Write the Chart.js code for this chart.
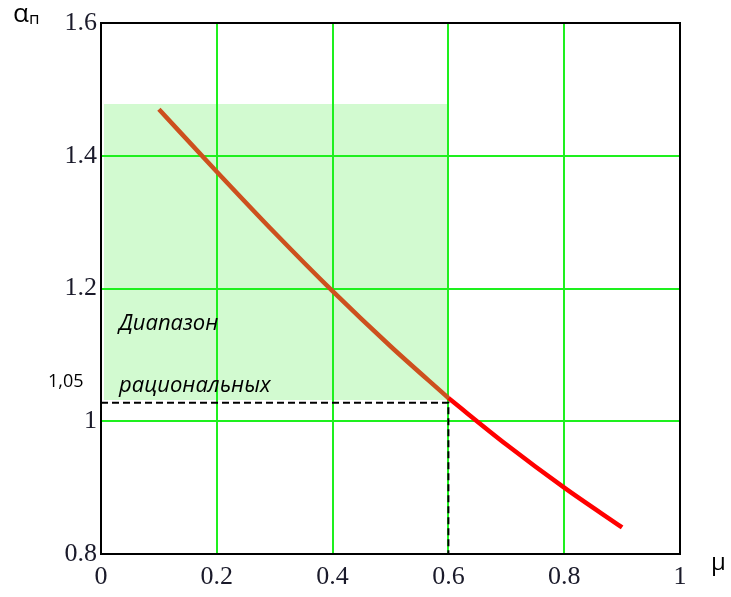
<!DOCTYPE html>
<html>
<head>
<meta charset="utf-8">
<script src="https://cdn.jsdelivr.net/npm/chart.js@4"></script>
<style>
  html, body { margin: 0; padding: 0; background: #fff; }
  #wrap { width: 731px; height: 597px; }
</style>
</head>
<body>
<div id="wrap"><canvas id="chart"></canvas></div>
<script>
// данные кривой (mu -> alpha_n)
const muValues = [0.1, 0.2, 0.3, 0.4, 0.5, 0.6, 0.7, 0.8, 0.9];
const alphaValues = [1.47, 1.376, 1.284, 1.196, 1.113, 1.035, 0.965, 0.9, 0.84];
const splitIndex = 5; // до mu = 0.6 кривая коричневая, дальше красная

// зона рациональных значений
const rangeX = [0.005, 0.6];
const rangeY = [1.032, 1.478];
const dashLevel = 1.028;

const xLimits = [0, 1];
const yLimits = [0.8, 1.6];
const tickStep = 0.2;

const pts = (xs, ys) => xs.map((x, i) => ({ x: x, y: ys[i] }));

const curveLeft = pts(muValues.slice(0, splitIndex + 1), alphaValues.slice(0, splitIndex + 1));
const curveRight = pts(muValues.slice(splitIndex), alphaValues.slice(splitIndex));

// подписи поверх графика
const textsPlugin = {
    id: 'texts',
    afterDraw(chart) {
        const ctx = chart.ctx;
        const a = chart.chartArea;
        ctx.save();
        // рамка
        ctx.strokeStyle = '#000';
        ctx.lineWidth = 2;
        ctx.strokeRect(a.left, a.top, a.right - a.left, a.bottom - a.top);

        ctx.fillStyle = '#000';
        ctx.textBaseline = 'alphabetic';
        ctx.font = '26px "Open Sans"';
        ctx.fillText('α', 13, 22);
        ctx.font = '17px "Open Sans"';
        ctx.fillText('п', 29, 24);
        ctx.font = '24px "Open Sans"';
        ctx.fillText('μ', 711, 570);

        ctx.font = '18px "Open Sans"';
        ctx.fillText('1,05', 48, 387);

        ctx.font = 'italic 22px "Open Sans"';
        ctx.fillText('Диапазон', 119, 330);
        ctx.fillText('рациональных', 119, 392);
        ctx.restore();
    }
};

new Chart(document.getElementById('chart'), {
    type: 'scatter',
    data: {
        datasets: [
            {
                // зелёная зона
                data: pts(rangeX, [rangeY[1], rangeY[1]]),
                showLine: true,
                borderWidth: 0,
                pointRadius: 0,
                backgroundColor: 'rgb(210, 250, 208)',
                fill: { value: rangeY[0] },
                order: 3
            },
            {
                // пунктир
                data: [{ x: 0, y: dashLevel }, { x: rangeX[1], y: dashLevel }, { x: rangeX[1], y: yLimits[0] }],
                showLine: true,
                borderColor: '#000',
                borderWidth: 2,
                borderDash: [7, 4],
                pointRadius: 0,
                order: 2
            },
            {
                data: curveLeft,
                showLine: true,
                borderColor: 'rgb(205, 80, 30)',
                borderWidth: 4.5,
                pointRadius: 0,
                cubicInterpolationMode: 'monotone',
                order: 1
            },
            {
                data: curveRight,
                showLine: true,
                borderColor: 'rgb(255, 0, 0)',
                borderWidth: 4.5,
                pointRadius: 0,
                cubicInterpolationMode: 'monotone',
                order: 1
            }
        ]
    },
    options: {
        responsive: true,
        maintainAspectRatio: false,
        animation: false,
        layout: { padding: { left: 0, top: 23, right: 51, bottom: 0 } },
        plugins: {
            legend: { display: false },
            tooltip: { enabled: false },
            filler: { drawTime: 'beforeDraw' } // заливка под сеткой
        },
        scales: {
            x: {
                type: 'linear',
                min: xLimits[0], max: xLimits[1],
                afterFit: s => { s.height = 43; },
                grid: { color: 'rgb(30, 240, 30)', lineWidth: 2, drawTicks: false },
                border: { display: false },
                ticks: {
                    stepSize: tickStep,
                    padding: 8,
                    color: '#1a1a2a',
                    font: { family: '"Liberation Serif"', size: 26 },
                    callback: v => String(Math.round(v * 10) / 10)
                }
            },
            y: {
                type: 'linear',
                min: yLimits[0], max: yLimits[1],
                afterFit: s => { s.width = 101; },
                grid: { color: 'rgb(30, 240, 30)', lineWidth: 2, drawTicks: false },
                border: { display: false },
                ticks: {
                    stepSize: tickStep,
                    padding: 4,
                    color: '#1a1a2a',
                    font: { family: '"Liberation Serif"', size: 26 },
                    callback: v => String(Math.round(v * 10) / 10)
                }
            }
        }
    },
    plugins: [textsPlugin]
});
</script>
</body>
</html>
